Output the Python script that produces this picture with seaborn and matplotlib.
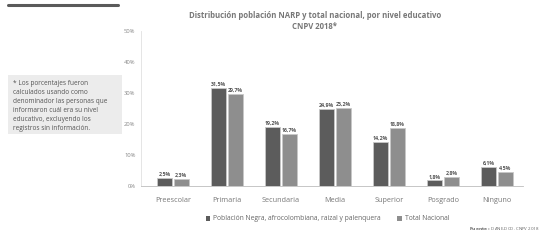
import matplotlib
matplotlib.use("Agg")
import matplotlib.pyplot as plt
import seaborn as sns
import pandas as pd
from matplotlib.patches import Rectangle

categories = ["Preescolar", "Primaria", "Secundaria", "Media", "Superior", "Posgrado", "Ninguno"]
narp = [2.5, 31.5, 19.2, 24.9, 14.2, 1.8, 6.1]
nacional = [2.3, 29.7, 16.7, 25.2, 18.8, 2.8, 4.5]
series_names = ["Población Negra, afrocolombiana, raizal y palenquera", "Total Nacional"]
yticks = [0, 10, 20, 30, 40, 50]

df = pd.DataFrame({
    "nivel": categories * 2,
    "valor": narp + nacional,
    "serie": [series_names[0]] * len(categories) + [series_names[1]] * len(categories),
})

sns.set_theme(style="white")
plt.rcParams['font.family'] = ['Open Sans', 'DejaVu Sans']

fig = plt.figure(figsize=(5.41, 2.41), dpi=100)

# note box (drawn behind everything)
fig.patches.append(Rectangle((8 / 541, 1 - 134 / 241), 114 / 541, 59 / 241,
                             transform=fig.transFigure, facecolor="#ececec",
                             edgecolor="none", zorder=0))

ax = fig.add_axes([141 / 541, 0.228, 382 / 541, 0.643])
ax.patch.set_alpha(0)

colors = ["#5c5c5c", "#8e8e8e"]
sns.barplot(data=df, x="nivel", y="valor", hue="serie", palette=colors,
            width=0.62, gap=0.08, edgecolor="#c8c8c8", linewidth=0.6,
            saturation=1, ax=ax, legend=False)

for cont in ax.containers:
    ax.bar_label(cont, labels=[f"{v:.1f}%".replace(".", ",") for v in cont.datavalues],
                 fontsize=3.8, fontweight="bold", color="#555555", padding=0.8)

ax.set_ylim(0, 50)
ax.set_yticks(yticks)
ax.set_yticklabels([f"{t}%" for t in yticks], fontsize=4.2, color="#888888")
ax.tick_params(axis="x", labelsize=5.2, colors="#777777", length=0, pad=8)
ax.tick_params(axis="y", length=0, pad=4)
ax.set_xlabel("")
ax.set_ylabel("")
ax.set_xlim(-0.59, 6.48)
for s in ["top", "right"]:
    ax.spines[s].set_visible(False)
ax.spines["left"].set_color("#e0e0e0")
ax.spines["left"].set_linewidth(0.6)
ax.spines["bottom"].set_color("#bdbdbd")
ax.spines["bottom"].set_linewidth(0.6)

fig.text(0.582, 0.935, "Distribución población NARP y total nacional, por nivel educativo",
         ha="center", va="center", fontsize=5.6, fontweight="bold", color="#777777")
fig.text(0.582, 0.888, "CNPV 2018*", ha="center", va="center", fontsize=5.6,
         fontweight="bold", color="#777777")

# top decorative line
fig.add_artist(plt.Line2D([8 / 541, 118 / 541], [1 - 5 / 241, 1 - 5 / 241],
                          color="#5a5a5a", linewidth=2.2, transform=fig.transFigure))

fig.text(13 / 541, 1 - 80 / 241,
         "* Los porcentajes fueron\ncalculados usando como\ndenominador las personas que\ninformaron cuál era su nivel\neducativo, excluyendo los\nregistros sin información.",
         ha="left", va="top", fontsize=4.7, color="#555555", linespacing=1.4)

# legend
handles = [Rectangle((0, 0), 1, 1, facecolor=c, edgecolor="none") for c in colors]
fig.legend(handles, series_names, loc="center", bbox_to_anchor=(0.605, 1 - 219 / 241),
           ncol=2, frameon=False, fontsize=4.9, handlelength=0.7, handleheight=0.7,
           handletextpad=0.4, columnspacing=2.4, labelcolor="#666666")

fig.text(0.998, 1 - 229 / 241, r"$\bf{Fuente:}$ DANE-DCD. CNPV 2018", ha="right", va="center",
         fontsize=3.2, color="#666666")

fig.savefig("out.png", dpi=100)
